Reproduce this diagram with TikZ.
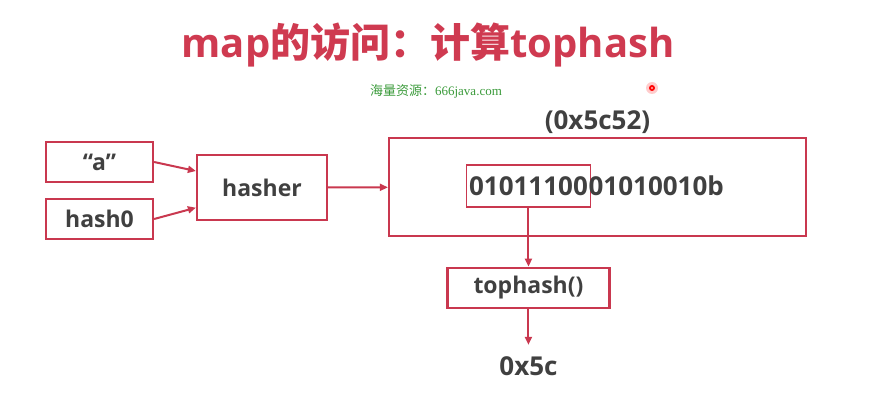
\documentclass[tikz,border=0pt]{standalone}
\usepackage{fontspec}
\setmainfont{Open Sans}
\newfontfamily\cjk{Noto Sans CJK SC}
\newfontfamily\wmserif{Liberation Serif}
\usetikzlibrary{arrows.meta,positioning}
\definecolor{linered}{HTML}{C9384F}
\definecolor{titlered}{HTML}{CF3A50}
\definecolor{textgray}{HTML}{404040}
\definecolor{wmgreen}{HTML}{3A9A3A}

\begin{document}
\begin{tikzpicture}[
    x=1pt, y=-1pt,
    box/.style={draw=linered, line width=2.2pt, inner sep=0pt, minimum width=107pt, minimum height=40pt,
      text=textgray, font=\fontsize{23}{26}\selectfont\bfseries},
    txt/.style={text=textgray, inner sep=0pt, font=\fontsize{26}{30}\selectfont\bfseries},
    arr/.style={-{Triangle[length=8pt,width=7pt]}, draw=linered, line width=2pt}
  ]
    \useasboundingbox (0,0) rectangle (872,406);
    % title and watermark
    \node[text=titlered, font=\fontsize{40}{44}\selectfont\bfseries] (title) at (428,45) {map{\cjk 的访问：计算}tophash};
    \node[text=wmgreen, font=\fontsize{13}{15}\selectfont] (wm) at (436,91) {{\cjk 海量资源：}{\wmserif 666java.com}};
    \fill[red!20] (652,88) circle (6pt);
    \fill[red] (652,88) circle (3pt);
    \fill[red!30] (652,88) circle (1.2pt);
    % inputs
    \node[box] (str) at (99.5,162) {“a”};
    \node[box] (seed) at (99.5,219) {hash0};
    \node[box, minimum width=130pt, minimum height=65pt] (hasher) at (262,187.5) {hasher};
    % hash value
    \node[box, minimum width=417pt, minimum height=98pt] (word) at (597.5,187) {};
    \node[txt, above=3pt of word] (hex) {(0x5c52)};
    \node[txt, draw=linered, line width=1.2pt, inner xsep=2.5pt, minimum height=42pt, anchor=west] (high) at (466,186) {01011100};
    \node[txt, anchor=base west, xshift=-2.5pt] (low) at (high.base east) {01010010b};
    % tophash
    \node[box, minimum width=162pt, below=59pt of high] (top) {tophash()};
    \node[txt, below=48pt of top] (res) {0x5c};
    \draw[arr] (str.east) -- (hasher.166);
    \draw[arr] (seed.east) -- (hasher.197);
    \draw[arr] (hasher) -- (word);
    \draw[arr] (high) -- (top);
    \draw[arr] (top) -- ([yshift=12pt]res.north);
  \end{tikzpicture}
\end{document}
